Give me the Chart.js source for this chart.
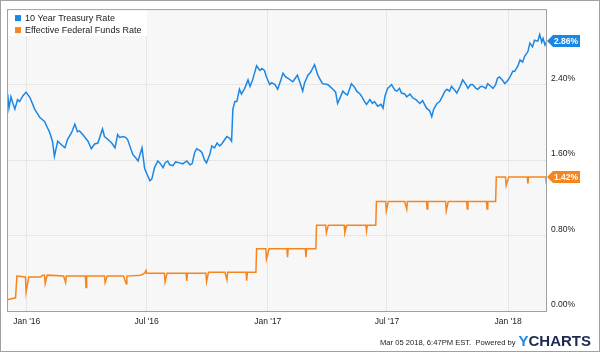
<!DOCTYPE html>
<html>
<head>
<meta charset="utf-8">
<style>
  html, body { margin: 0; padding: 0; background: #fff; }
  canvas { display: block; }
</style>
</head>
<body>
<canvas id="grafico" width="600" height="353"></canvas>
<script src="https://cdn.jsdelivr.net/npm/chart.js"></script>
<script>
    // Serie 1: 10 Year Treasury Rate (lecturas del gráfico)
    const treasuryDates = [
        '2015-12-03', '2015-12-05', '2015-12-08', '2015-12-11', '2015-12-14', '2015-12-18', '2015-12-21', '2015-12-26', '2015-12-31',
        '2016-01-06', '2016-01-13', '2016-01-21', '2016-01-28', '2016-02-05', '2016-02-09', '2016-02-12', '2016-02-17', '2016-02-23',
        '2016-02-28', '2016-03-03', '2016-03-09', '2016-03-14', '2016-03-18', '2016-03-21', '2016-03-26', '2016-04-03', '2016-04-08',
        '2016-04-13', '2016-04-18', '2016-04-25', '2016-04-28', '2016-05-03', '2016-05-09', '2016-05-14', '2016-05-18', '2016-05-21',
        '2016-05-26', '2016-05-30', '2016-06-02', '2016-06-10', '2016-06-15', '2016-06-18', '2016-06-24', '2016-06-28', '2016-07-01',
        '2016-07-06', '2016-07-09', '2016-07-13', '2016-07-18', '2016-07-21', '2016-07-26', '2016-07-29', '2016-08-02', '2016-08-05',
        '2016-08-10', '2016-08-14', '2016-08-20', '2016-08-25', '2016-08-31', '2016-09-05', '2016-09-08', '2016-09-12', '2016-09-15',
        '2016-09-20', '2016-09-23', '2016-09-27', '2016-09-30', '2016-10-05', '2016-10-08', '2016-10-12', '2016-10-16', '2016-10-20',
        '2016-10-23', '2016-10-28', '2016-10-31', '2016-11-04', '2016-11-07', '2016-11-09', '2016-11-12', '2016-11-15', '2016-11-19',
        '2016-11-22', '2016-11-27', '2016-12-02', '2016-12-05', '2016-12-09', '2016-12-15', '2016-12-20', '2016-12-23', '2016-12-27',
        '2016-12-30', '2017-01-04', '2017-01-07', '2017-01-12', '2017-01-16', '2017-01-21', '2017-01-24', '2017-01-28', '2017-01-31',
        '2017-02-08', '2017-02-12', '2017-02-15', '2017-02-19', '2017-02-23', '2017-02-26', '2017-03-03', '2017-03-07', '2017-03-13',
        '2017-03-18', '2017-03-21', '2017-03-25', '2017-04-02', '2017-04-10', '2017-04-14', '2017-04-17', '2017-04-22', '2017-04-25',
        '2017-04-29', '2017-05-02', '2017-05-08', '2017-05-13', '2017-05-16', '2017-05-21', '2017-05-24', '2017-05-28', '2017-05-31',
        '2017-06-05', '2017-06-09', '2017-06-12', '2017-06-17', '2017-06-22', '2017-06-25', '2017-06-28', '2017-07-02', '2017-07-05',
        '2017-07-08', '2017-07-13', '2017-07-16', '2017-07-20', '2017-07-23', '2017-07-28', '2017-07-31', '2017-08-05', '2017-08-09',
        '2017-08-14', '2017-08-20', '2017-08-24', '2017-08-30', '2017-09-04', '2017-09-07', '2017-09-10', '2017-09-15', '2017-09-19',
        '2017-09-22', '2017-09-27', '2017-09-30', '2017-10-04', '2017-10-07', '2017-10-12', '2017-10-15', '2017-10-20', '2017-10-24',
        '2017-10-29', '2017-11-01', '2017-11-05', '2017-11-08', '2017-11-13', '2017-11-16', '2017-11-20', '2017-11-23', '2017-11-28',
        '2017-12-01', '2017-12-06', '2017-12-09', '2017-12-13', '2017-12-16', '2017-12-19', '2017-12-24', '2017-12-27', '2017-12-31',
        '2018-01-03', '2018-01-08', '2018-01-11', '2018-01-16', '2018-01-19', '2018-01-23', '2018-01-26', '2018-01-31', '2018-02-03',
        '2018-02-07', '2018-02-10', '2018-02-15', '2018-02-18', '2018-02-21', '2018-02-23', '2018-02-26', '2018-03-01'
    ];
    const treasuryValues = [
        2.30, 2.15, 2.27, 2.20, 2.14, 2.24, 2.22, 2.28, 2.32,
        2.26, 2.14, 2.05, 2.01, 1.89, 1.80, 1.64, 1.80, 1.76,
        1.73, 1.82, 1.89, 1.98, 1.90, 1.91, 1.87, 1.80, 1.72,
        1.77, 1.78, 1.93, 1.85, 1.82, 1.78, 1.73, 1.87, 1.84,
        1.85, 1.84, 1.82, 1.66, 1.62, 1.59, 1.73, 1.51, 1.46,
        1.38, 1.40, 1.52, 1.59, 1.57, 1.52, 1.57, 1.59, 1.55,
        1.54, 1.58, 1.57, 1.56, 1.59, 1.55, 1.56, 1.68, 1.72,
        1.70, 1.68, 1.60, 1.57, 1.66, 1.75, 1.73, 1.78, 1.75,
        1.77, 1.82, 1.85, 1.83, 1.80, 2.14, 2.22, 2.22, 2.35,
        2.30, 2.36, 2.45, 2.38, 2.45, 2.60, 2.55, 2.57, 2.55,
        2.48, 2.40, 2.42, 2.40, 2.35, 2.45, 2.52, 2.48, 2.47,
        2.43, 2.47, 2.50, 2.42, 2.33, 2.42, 2.50, 2.53, 2.61,
        2.50, 2.46, 2.41, 2.40, 2.35, 2.32, 2.20, 2.28, 2.33,
        2.30, 2.29, 2.41, 2.37, 2.33, 2.30, 2.27, 2.22, 2.19,
        2.24, 2.20, 2.22, 2.17, 2.19, 2.15, 2.28, 2.36, 2.38,
        2.40, 2.34, 2.33, 2.36, 2.31, 2.30, 2.27, 2.30, 2.26,
        2.24, 2.20, 2.23, 2.15, 2.12, 2.06, 2.14, 2.20, 2.22,
        2.26, 2.33, 2.35, 2.33, 2.38, 2.34, 2.31, 2.38, 2.45,
        2.40, 2.36, 2.40, 2.40, 2.36, 2.35, 2.38, 2.38, 2.36,
        2.41, 2.38, 2.36, 2.40, 2.47, 2.48, 2.44, 2.41, 2.44,
        2.47, 2.54, 2.54, 2.60, 2.66, 2.64, 2.70, 2.75, 2.84,
        2.80, 2.87, 2.86, 2.93, 2.85, 2.89, 2.82, 2.86
    ];

    // Serie 2: Effective Federal Funds Rate, solo los puntos donde cambia
    const fedDates = [
        '2015-12-02', '2015-12-15', '2015-12-17', '2015-12-30', '2015-12-31', '2016-01-04',
        '2016-01-22', '2016-01-25', '2016-01-28', '2016-01-29', '2016-02-01',
        '2016-02-26', '2016-02-29', '2016-03-01',
        '2016-03-30', '2016-03-31', '2016-04-01',
        '2016-04-28', '2016-04-29', '2016-05-02',
        '2016-05-27', '2016-05-31', '2016-06-01',
        '2016-06-22', '2016-06-28', '2016-06-30', '2016-07-01',
        '2016-07-28', '2016-07-29', '2016-08-01',
        '2016-08-30', '2016-08-31', '2016-09-01',
        '2016-09-29', '2016-09-30', '2016-10-03',
        '2016-10-28', '2016-10-31', '2016-11-01',
        '2016-11-29', '2016-11-30', '2016-12-01',
        '2016-12-14', '2016-12-15',
        '2016-12-29', '2016-12-30', '2017-01-03',
        '2017-01-30', '2017-01-31', '2017-02-01',
        '2017-02-27', '2017-02-28', '2017-03-01',
        '2017-03-15', '2017-03-16',
        '2017-03-30', '2017-03-31', '2017-04-03',
        '2017-04-27', '2017-04-28', '2017-05-01',
        '2017-05-30', '2017-05-31', '2017-06-01',
        '2017-06-14', '2017-06-15',
        '2017-06-29', '2017-06-30', '2017-07-03',
        '2017-07-28', '2017-07-31', '2017-08-01',
        '2017-08-30', '2017-08-31', '2017-09-01',
        '2017-09-28', '2017-09-29', '2017-10-02',
        '2017-10-30', '2017-10-31', '2017-11-01',
        '2017-11-29', '2017-11-30', '2017-12-01',
        '2017-12-13', '2017-12-14',
        '2017-12-28', '2017-12-29', '2018-01-02',
        '2018-01-30', '2018-01-31', '2018-02-01',
        '2018-02-27', '2018-02-28', '2018-03-01'
    ];
    const fedValues = [
        0.12, 0.14, 0.37, 0.36, 0.20, 0.36,
        0.36, 0.38, 0.38, 0.29, 0.38,
        0.37, 0.30, 0.37,
        0.37, 0.25, 0.37,
        0.37, 0.30, 0.37,
        0.37, 0.29, 0.37,
        0.38, 0.40, 0.43, 0.40,
        0.40, 0.31, 0.40,
        0.40, 0.32, 0.40,
        0.40, 0.31, 0.41,
        0.41, 0.33, 0.41,
        0.41, 0.32, 0.41,
        0.41, 0.66,
        0.66, 0.55, 0.66,
        0.66, 0.57, 0.66,
        0.66, 0.57, 0.66,
        0.66, 0.91,
        0.91, 0.83, 0.91,
        0.91, 0.83, 0.91,
        0.91, 0.85, 0.91,
        0.91, 1.16,
        1.16, 1.06, 1.16,
        1.16, 1.08, 1.16,
        1.16, 1.08, 1.16,
        1.16, 1.06, 1.16,
        1.16, 1.08, 1.16,
        1.16, 1.08, 1.16,
        1.16, 1.42,
        1.42, 1.33, 1.42,
        1.42, 1.35, 1.42,
        1.42, 1.35, 1.42
    ];

    const seriesNames = ['10 Year Treasury Rate', 'Effective Federal Funds Rate'];
    const seriesColors = ['#1a87e4', '#f7851d'];
    const tickDates = ['2016-01-01', '2016-07-01', '2017-01-01', '2017-07-01', '2018-01-01'];
    const tickLabels = ["Jan '16", "Jul '16", "Jan '17", "Jul '17", "Jan '18"];
    const rangeStart = '2015-12-02';
    const rangeEnd = '2018-03-01';
    const footerText = 'Mar 05 2018, 6:47PM EST.  Powered by';

    // Días desde el 1 de enero de 2016
    function dia(fecha) {
        const p = fecha.split('-').map(Number);
        return (Date.UTC(p[0], p[1] - 1, p[2]) - Date.UTC(2016, 0, 1)) / 86400000;
    }

    const datosSerie1 = treasuryDates.map((d, i) => ({ x: dia(d), y: treasuryValues[i] }));
    const datosSerie2 = fedDates.map((d, i) => ({ x: dia(d), y: fedValues[i] }));

    const FUENTE = '"Liberation Sans", Arial, sans-serif';

    // Fondo, marco, leyenda, banderas y pie
    const fondoPlugin = {
        id: 'fondo',
        beforeDraw(chart) {
            const ctx = chart.ctx, a = chart.chartArea;
            ctx.save();
            ctx.fillStyle = '#fff';
            ctx.fillRect(0, 0, chart.width, chart.height);
            ctx.strokeStyle = '#a0a0a0';
            ctx.lineWidth = 1;
            ctx.strokeRect(0.5, 0.5, chart.width - 1, chart.height - 2);
            ctx.fillStyle = '#f7f7f7';
            ctx.fillRect(a.left, a.top, a.right - a.left, a.bottom - a.top);
            ctx.restore();
        },
        beforeDatasetsDraw(chart) {
            const ctx = chart.ctx, a = chart.chartArea;
            ctx.save();
            ctx.fillStyle = '#fff';
            ctx.fillRect(a.left, a.top, 140, 27);
            ctx.font = '9px ' + FUENTE;
            ctx.textBaseline = 'middle';
            seriesNames.forEach((n, i) => {
                const y = a.top + 9 + i * 12;
                ctx.fillStyle = seriesColors[i];
                ctx.fillRect(a.left + 8, y - 3, 6, 6);
                ctx.fillStyle = '#222';
                ctx.fillText(n, a.left + 18, y);
            });
            ctx.restore();
        },
        afterDraw(chart) {
            const ctx = chart.ctx, a = chart.chartArea;
            ctx.save();
            ctx.strokeStyle = '#a0a0a0';
            ctx.lineWidth = 1;
            ctx.strokeRect(a.left + 0.5, a.top + 0.5, a.right - a.left - 1, a.bottom - a.top);

            // banderas con el último valor de cada serie
            const ys = chart.scales.y;
            chart.data.datasets.forEach((ds, i) => {
                const v = ds.data[ds.data.length - 1].y;
                const py = Math.round(ys.getPixelForValue(v));
                const x0 = a.right;
                ctx.fillStyle = seriesColors[i];
                ctx.beginPath();
                ctx.moveTo(x0, py);
                ctx.lineTo(x0 + 6, py - 6);
                ctx.lineTo(x0 + 33, py - 6);
                ctx.lineTo(x0 + 33, py + 6);
                ctx.lineTo(x0 + 6, py + 6);
                ctx.closePath();
                ctx.fill();
                ctx.fillStyle = '#fff';
                ctx.font = 'bold 8.5px ' + FUENTE;
                ctx.textBaseline = 'middle';
                ctx.textAlign = 'left';
                ctx.fillText(v.toFixed(2) + '%', x0 + 7, py + 0.5);
            });

            // pie: fecha y logo
            const yPie = 342;
            ctx.textBaseline = 'middle';
            ctx.textAlign = 'left';
            ctx.font = 'bold 15px ' + FUENTE;
            const wC = ctx.measureText('CHARTS').width;
            const wY = ctx.measureText('Y').width;
            const xLogo = 591 - wC - wY;
            ctx.fillStyle = '#1e8ae6';
            ctx.fillText('Y', xLogo, yPie);
            ctx.fillStyle = '#1d2a4f';
            ctx.fillText('CHARTS', xLogo + wY, yPie);
            ctx.font = '7.6px ' + FUENTE;
            ctx.fillStyle = '#222';
            ctx.textAlign = 'right';
            ctx.fillText(footerText, xLogo - 3, yPie + 1);
            ctx.restore();
        }
    };

    function crearGrafico() {
        const ctx = document.getElementById('grafico').getContext('2d');
        new Chart(ctx, {
            type: 'line',
            data: {
                datasets: [{
                    label: seriesNames[0],
                    data: datosSerie1,
                    borderColor: seriesColors[0],
                    borderWidth: 1.5,
                    pointRadius: 0,
                    fill: false
                }, {
                    label: seriesNames[1],
                    data: datosSerie2,
                    borderColor: seriesColors[1],
                    borderWidth: 1.5,
                    pointRadius: 0,
                    fill: false
                }]
            },
            options: {
                responsive: false,
                animation: false,
                devicePixelRatio: 1,
                layout: { padding: { left: 7, top: 7, right: 0, bottom: 0 } },
                plugins: {
                    legend: { display: false },
                    tooltip: { enabled: false }
                },
                scales: {
                    x: {
                        type: 'linear',
                        min: dia(rangeStart),
                        max: dia(rangeEnd),
                        afterFit: s => { s.height = 42; },
                        afterBuildTicks: s => { s.ticks = tickDates.map(d => ({ value: dia(d) })); },
                        grid: { color: '#e6e6e6', drawTicks: false },
                        border: { display: false },
                        ticks: {
                            autoSkip: false,
                            maxRotation: 0,
                            padding: 6,
                            color: '#222',
                            font: { family: FUENTE, size: 8.5 },
                            callback: (v, i) => tickLabels[i]
                        }
                    },
                    y: {
                        position: 'right',
                        min: 0,
                        max: 3.2,
                        afterFit: s => { s.width = 53; },
                        grid: { color: '#e6e6e6', drawTicks: false },
                        border: { display: false },
                        ticks: {
                            stepSize: 0.8,
                            padding: 4,
                            labelOffset: -6,
                            color: '#222',
                            font: { family: FUENTE, size: 8.5 },
                            callback: v => v > 3.1 ? '' : v.toFixed(2) + '%'
                        }
                    }
                }
            },
            plugins: [fondoPlugin]
        });
    }

    document.addEventListener('DOMContentLoaded', () => { crearGrafico(); });
</script>
</body>
</html>
